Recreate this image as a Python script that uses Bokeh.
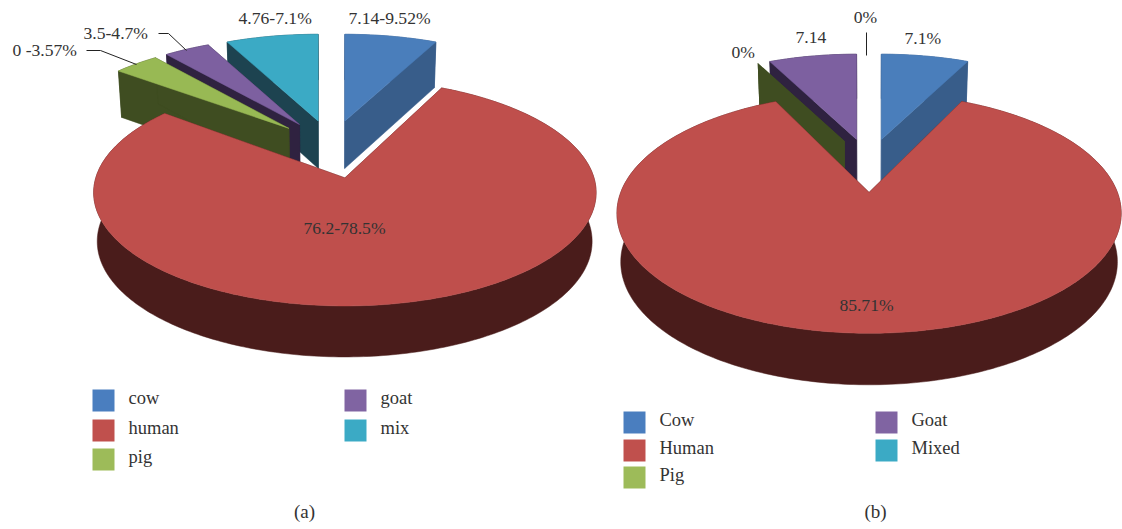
import math

from bokeh.core.properties import value
from bokeh.embed import file_html
from bokeh.models import Range1d
from bokeh.plotting import figure
from bokeh.resources import INLINE

# Slice shares, clockwise from twelve o'clock, one list per panel
species_a = ["cow", "human", "pig", "goat", "mix"]
shares_a = [7.14, 78.57, 3.57, 3.57, 7.14]
species_b = ["Cow", "Human", "Pig", "Goat", "Mixed"]
shares_b = [7.1, 85.71, 0, 7.14, 0]

labels_a = ["7.14-9.52%", "76.2-78.5%", "0 -3.57%", "3.5-4.7%", "4.76-7.1%"]
labels_b = ["7.1%", "85.71%", "0%", "7.14", "0%"]

top_colors = ["#4A7EBB", "#BF4F4C", "#98B954", "#7D60A0", "#3BAAC5"]
side_colors = ["#385D8A", "#4A1C1B", "#3F4D21", "#2F2240", "#1D4350"]
swatch_colors = ["#4A7EBF", "#C0504D", "#9DBB59", "#8064A2", "#3BAAC5"]

FONT = value("Liberation Serif")
TEXT_COLOR = "#333333"


def slice_geometry(shares, view):
    """Project each exploded slice of a tilted pie with simple perspective."""
    x0, y0, B, A, p, ex, ey, depth, shrink = view

    def point(ox, X, Y, lower=False):
        s = 1 / (1 + p * Y)
        x = x0 + B * (ox + X * s)
        y = y0 - A * Y * s
        if lower:
            x = x0 + (x - x0) * shrink
            y += depth * s ** 0.35
        return x, y

    total = sum(shares)
    start = 0.0
    slices = []
    for i, share in enumerate(shares):
        sweep = share / total * 2 * math.pi
        mid = start + sweep / 2
        ox, oy = ex * math.sin(mid), ey * math.cos(mid)
        steps = max(1, int(math.degrees(sweep)))
        angles = [start + sweep * k / steps for k in range(steps + 1)]
        rim = [(math.sin(a), oy + math.cos(a)) for a in angles]

        up_rim = [point(ox, *q) for q in rim]
        low_rim = [point(ox, *q, lower=True) for q in rim]
        apex_up, apex_low = point(ox, 0, oy), point(ox, 0, oy, lower=True)
        top = [apex_up] + up_rim
        walls = [
            up_rim + low_rim[::-1],
            [apex_up, up_rim[0], low_rim[0], apex_low],
            [apex_up, up_rim[-1], low_rim[-1], apex_low],
        ]
        slices.append((math.cos(mid), i, top, walls, share > 0))
        start += sweep
    # Far slices first, so nearer ones paint over them
    slices.sort(key=lambda item: -item[0])
    return slices


def draw_pie(p, shares, view):
    for _, i, top, walls, filled in slice_geometry(shares, view):
        # A zero share keeps only its cut face, with no outline of its own
        outline = side_colors[i] if filled else None
        for wall in walls:
            p.patch([q[0] for q in wall], [q[1] for q in wall],
                    fill_color=side_colors[i], line_color=outline, line_width=0.5)
        if filled:
            p.patch([q[0] for q in top], [q[1] for q in top],
                    fill_color=top_colors[i], line_color=top_colors[i], line_width=0.5)


def draw_legend(p, names, col_x, row_y, swatch=22, gap=14):
    # Left column holds the first three entries, right column the other two
    slots = [(col_x[0], row_y[0]), (col_x[0], row_y[1]), (col_x[0], row_y[2]),
             (col_x[1], row_y[0]), (col_x[1], row_y[1])]
    for i, (name, (x, y)) in enumerate(zip(names, slots)):
        p.quad(left=[x], right=[x + swatch], top=[y], bottom=[y + swatch],
               fill_color=swatch_colors[i], line_color=None)
        put_text(p, x + swatch + gap, y + swatch / 2 - 2, name, size="18.5px")


def put_text(p, x, y, text, align="left", size="17.6px"):
    p.text([x], [y - 1], text=[text], text_font=FONT, text_font_size=size,
           text_color=TEXT_COLOR, text_align=align, text_baseline="middle")


def leader(p, xs, ys):
    p.line(xs, ys, line_color="#222222", line_width=1)


p = figure(width=1122, height=529, output_backend="svg", toolbar_location=None,
           x_range=Range1d(0, 1122), y_range=Range1d(529, 0), min_border=0)
p.axis.visible = False
p.grid.visible = False
p.outline_line_color = None

# centre x, centre y, x scale, y scale, perspective, explode x, explode y, depth, lower rim shrink
view_a = (331, 148, 240.6, 104, 0.125, 0.25, 0.28, 48, 0.985)
view_b = (868.5, 164, 238, 107, 0.166, 0.235, 0.25, 47.5, 0.985)

draw_pie(p, shares_a, view_a)
draw_pie(p, shares_b, view_b)

leader(p, [86, 100, 136], [50, 50, 64])
leader(p, [158, 168, 186], [33, 33, 50])
leader(p, [866, 866], [32, 55])

put_text(p, 348, 18, labels_a[0])
put_text(p, 344, 228, labels_a[1], "center")
put_text(p, 12, 50, labels_a[2])
put_text(p, 83, 33, labels_a[3])
put_text(p, 238, 18, labels_a[4])

put_text(p, 904, 38, labels_b[0])
put_text(p, 866, 305, labels_b[1], "center")
put_text(p, 731, 52, labels_b[2])
put_text(p, 795, 38, labels_b[3])
put_text(p, 865, 17, labels_b[4], "center")

draw_legend(p, species_a, (92, 344), (389, 419, 448))
draw_legend(p, species_b, (623, 875), (411, 439, 466))

put_text(p, 304, 512, "(a)", "center", "19px")
put_text(p, 875, 512, "(b)", "center", "19px")

open("out.html", "w").write(file_html(p, INLINE))
